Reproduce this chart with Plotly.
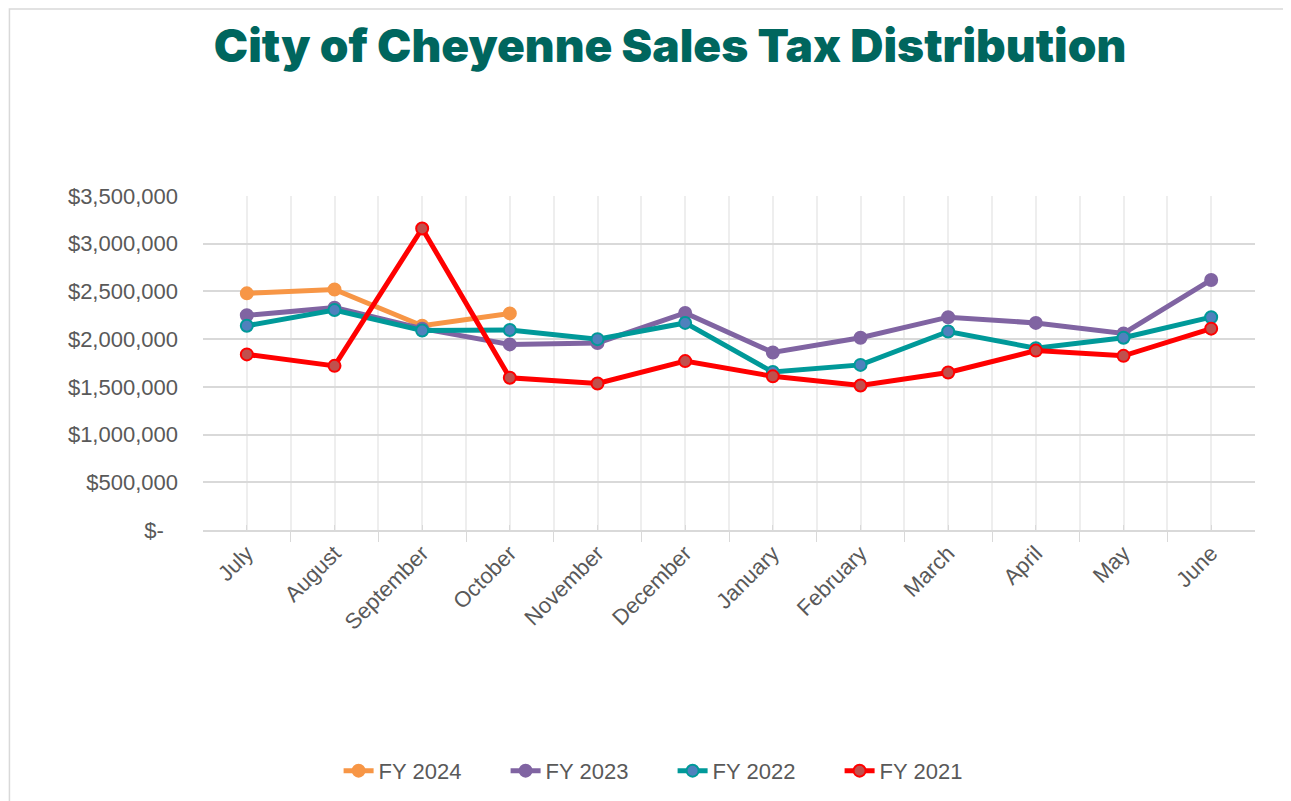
import plotly.graph_objects as go

months = ["July", "August", "September", "October", "November", "December",
          "January", "February", "March", "April", "May", "June"]

fy2024 = [2480000, 2520000, 2140000, 2270000]
fy2023 = [2250000, 2330000, 2110000, 1945000, 1960000, 2275000,
          1860000, 2015000, 2230000, 2170000, 2060000, 2620000]
fy2022 = [2140000, 2305000, 2090000, 2096000, 2000000, 2170000,
          1655000, 1730000, 2080000, 1905000, 2015000, 2230000]
fy2021 = [1840000, 1720000, 3160000, 1595000, 1535000, 1770000,
          1610000, 1515000, 1650000, 1880000, 1825000, 2110000]

y_ticks = [0, 500000, 1000000, 1500000, 2000000, 2500000, 3000000, 3500000]
y_ticktext = ["$-\u2007\u200a"] + ["${:,.0f}".format(v) for v in y_ticks[1:]]

series = [
    ("FY 2024", fy2024, "#F79646", "#F79646", "#F79646"),
    ("FY 2023", fy2023, "#8064A2", "#8064A2", "#8064A2"),
    ("FY 2022", fy2022, "#009999", "#4F81BD", "#009999"),
    ("FY 2021", fy2021, "#FF0000", "#C0504D", "#FF0000"),
]

x_idx = list(range(len(months)))

fig = go.Figure()
for name, vals, lc, mfill, mline in series:
    fig.add_trace(go.Scatter(
        x=x_idx[:len(vals)], y=vals, name=name, mode="lines+markers",
        line=dict(color=lc, width=5),
        marker=dict(size=12, color=mfill, line=dict(color=mline, width=2)),
    ))

FONT = "Liberation Sans, Arial"
GREY = "#595959"

fig.update_layout(
    width=1283, height=793,
    paper_bgcolor="white", plot_bgcolor="white",
    margin=dict(l=195, r=36, t=188, b=271),
    title=dict(text="City of Cheyenne Sales Tax Distribution",
               font=dict(family="Inter", size=46, color="#00665E", weight=900),
               x=0.516, xanchor="center", y=0.952, yanchor="middle",
               xref="container", yref="container"),
    showlegend=True,
    legend=dict(orientation="h", x=0.518, xanchor="center", xref="container",
                y=0.038, yanchor="middle", yref="container",
                font=dict(family=FONT, size=22, color=GREY),
                entrywidth=122, entrywidthmode="pixels",
                itemwidth=30, tracegroupgap=0),
    font=dict(family=FONT, size=22, color=GREY),
)

fig.update_xaxes(
    range=[-0.5, 11.5], tickmode="array", tickvals=x_idx, ticktext=months,
    tickangle=-45, tickfont=dict(family=FONT, size=22, color=GREY),
    showgrid=True, gridcolor="#EEEEEE", gridwidth=1.5,
    ticks="inside", ticklen=5, tickcolor="#D9D9D9",
    showline=True, linecolor="#D9D9D9", linewidth=1.5,
    zeroline=False,
    minor=dict(tickmode="linear", tick0=-0.5, dtick=1, ticks="outside", ticklen=10,
               tickcolor="#D9D9D9", showgrid=True, gridcolor="#EEEEEE", gridwidth=1.5),
)

fig.update_yaxes(
    range=[0, 3500000], tickmode="array", tickvals=y_ticks, ticktext=y_ticktext,
    tickfont=dict(family=FONT, size=22, color=GREY),
    showgrid=True, gridcolor="#D9D9D9", gridwidth=1.5,
    zeroline=False, showline=False, ticks="", ticklabelstandoff=24,
)

fig.add_shape(type="rect", xref="paper", yref="paper",
              x0=-0.184, x1=1.05, y0=-0.85, y1=1.560,
              line=dict(color="#D9D9D9", width=1.5), fillcolor="rgba(0,0,0,0)", layer="below")

fig.write_html("out.html")
